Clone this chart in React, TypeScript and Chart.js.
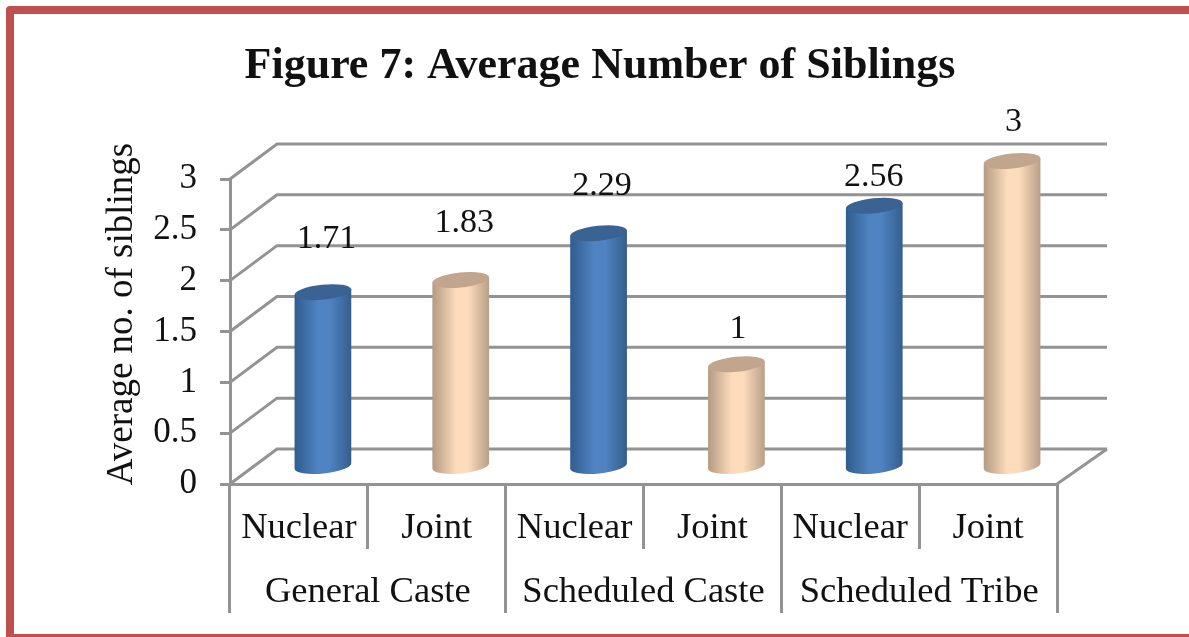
import React, { useEffect, useRef } from "react";
import { Chart, registerables } from "chart.js";

Chart.register(...registerables);

const categories = ["Nuclear", "Joint", "Nuclear", "Joint", "Nuclear", "Joint"];
const groups = ["General Caste", "Scheduled Caste", "Scheduled Tribe"];
const siblings = [1.71, 1.83, 2.29, 1, 2.56, 3];
const valueLabels = ["1.71", "1.83", "2.29", "1", "2.56", "3"];
const yTicks = [0, 0.5, 1, 1.5, 2, 2.5, 3];

const TITLE = "Figure 7: Average Number of Siblings";
const Y_TITLE = "Average no. of siblings";
const SERIF = "'Liberation Serif', serif";
const INK = "#111";
const LINE = "#939393";

// 3D projection of the chart's depth
const DEPTH_X = 47;
const DEPTH_Y = 35;
const BAR_DX = 24;
const BAR_DY = 18;
const BASE_DROP = 1.5;
const BAR_RX = 28.5;
const BAR_RY = 7.5;
const BAR_TILT = -0.1;
// distance of each value label above its cylinder, and its sideways nudge
const labelLift = [53, 57, 47, 35, 29, 39];
const labelNudge = [3.5, 3.5, 3.5, 1.5, -0.5, 1.5];

const palettes = [
  { edge: "#305c8e", mid: "#4f83c2", dark: "#355d8c", top: "#3a6394" },
  { edge: "#b39a82", mid: "#fddcbc", dark: "#b89f88", top: "#c2a58d" },
];

const scene = {
  id: "scene3d",
  beforeDraw(chart: any) {
    const { ctx } = chart;
    ctx.save();
    ctx.fillStyle = "#fff";
    ctx.fillRect(0, 0, chart.width, chart.height);
    ctx.strokeStyle = "#c0504d";
    ctx.lineWidth = 8;
    ctx.lineJoin = "round";
    ctx.strokeRect(10, 10, 1200, 628);
    ctx.restore();
    // centre the title over the plot as in the source figure
    chart.titleBlock.left = 11;
    chart.titleBlock.right = chart.width;
  },
  beforeDatasetsDraw(chart: any) {
    const { ctx, chartArea: a, scales } = chart;
    ctx.save();
    ctx.strokeStyle = LINE;
    ctx.lineWidth = 3;
    yTicks.forEach((t) => {
      const y = scales.y.getPixelForValue(t);
      ctx.beginPath();
      ctx.moveTo(a.left, y);
      ctx.lineTo(a.left + DEPTH_X, y - DEPTH_Y);
      ctx.lineTo(a.right + DEPTH_X + 3, y - DEPTH_Y);
      ctx.stroke();
    });
    ctx.beginPath();
    ctx.moveTo(a.right, a.bottom);
    ctx.lineTo(a.right + DEPTH_X + 3, a.bottom - DEPTH_Y);
    ctx.stroke();
    ctx.restore();
  },
  afterDatasetsDraw(chart: any) {
    const { ctx } = chart;
    const meta = chart.getDatasetMeta(0);
    meta.data.forEach((bar: any, i: number) => {
      const pal = palettes[i % 2];
      const cx = bar.x + BAR_DX;
      const topY = bar.y - BAR_DY;
      const baseY = bar.base - BAR_DY + BASE_DROP;
      const dx = BAR_RX * Math.cos(BAR_TILT);
      const dy = BAR_RX * Math.sin(BAR_TILT);
      const g = ctx.createLinearGradient(cx - BAR_RX, 0, cx + BAR_RX, 0);
      g.addColorStop(0, pal.edge);
      g.addColorStop(0.42, pal.mid);
      g.addColorStop(0.62, pal.mid);
      g.addColorStop(1, pal.dark);
      ctx.save();
      ctx.fillStyle = g;
      ctx.beginPath();
      ctx.ellipse(cx, baseY, BAR_RX, BAR_RY, BAR_TILT, 0, Math.PI);
      ctx.lineTo(cx - dx, topY - dy);
      ctx.lineTo(cx + dx, topY + dy);
      ctx.closePath();
      ctx.fill();
      ctx.fillStyle = pal.top;
      ctx.beginPath();
      ctx.ellipse(cx, topY, BAR_RX, BAR_RY, BAR_TILT, 0, Math.PI * 2);
      ctx.fill();
      ctx.restore();

      ctx.save();
      ctx.fillStyle = INK;
      ctx.font = `34px ${SERIF}`;
      ctx.textAlign = "center";
      ctx.textBaseline = "middle";
      ctx.fillText(valueLabels[i], cx + labelNudge[i], topY - labelLift[i]);
      ctx.restore();
    });
  },
  afterDraw(chart: any) {
    const { ctx } = chart;
    ctx.save();
    ctx.translate(132, 314);
    ctx.rotate(-Math.PI / 2);
    ctx.fillStyle = INK;
    ctx.font = `37px ${SERIF}`;
    ctx.textAlign = "center";
    ctx.textBaseline = "alphabetic";
    ctx.fillText(Y_TITLE, 0, 0);
    ctx.restore();
  },
};

export default function App() {
  const ref = useRef<HTMLCanvasElement>(null);
  useEffect(() => {
    document.body.style.margin = "0";
    document.body.style.overflow = "hidden";
    const chart = new Chart(ref.current!, {
      type: "bar",
      data: {
        labels: categories,
        datasets: [
          {
            label: Y_TITLE,
            data: siblings,
            backgroundColor: "rgba(0,0,0,0)",
            borderWidth: 0,
            xAxisID: "x",
            yAxisID: "y",
          },
        ],
      },
      plugins: [scene],
      options: {
        animation: false,
        responsive: false,
        layout: { padding: { left: 0, right: 132, top: 0, bottom: 24 } },
        plugins: {
          legend: { display: false },
          tooltip: { enabled: false },
          title: {
            display: true,
            text: TITLE,
            color: INK,
            font: { family: SERIF, size: 44, weight: "bold", lineHeight: 1.2 },
            padding: { top: 40, bottom: 86.2 },
          },
        },
        scales: {
          y: {
            min: 0,
            max: 3,
            afterFit: (s: any) => {
              s.width = 230;
            },
            afterBuildTicks: (s: any) => {
              s.ticks = yTicks.map((value) => ({ value }));
            },
            ticks: {
              color: INK,
              padding: 23,
              font: { family: SERIF, size: 35 },
              callback: (v: any) => String(v),
            },
            grid: {
              drawOnChartArea: false,
              tickLength: 10,
              color: LINE,
              lineWidth: 3,
            },
            border: { display: true, color: LINE, width: 3 },
          },
          x: {
            offset: true,
            weight: 0,
            afterFit: (s: any) => {
              s.height = 65;
            },
            ticks: {
              color: INK,
              padding: -42,
              maxRotation: 0,
              autoSkip: false,
              font: { family: SERIF, size: 36.5 },
            },
            grid: {
              offset: true,
              drawOnChartArea: false,
              tickLength: 65,
              color: LINE,
              lineWidth: 3,
            },
            border: { display: true, color: LINE, width: 3 },
          },
          x2: {
            type: "category",
            axis: "x",
            position: "bottom",
            weight: 1,
            offset: true,
            labels: groups,
            afterFit: (s: any) => {
              s.height = 64;
            },
            ticks: {
              color: INK,
              padding: -42,
              maxRotation: 0,
              autoSkip: false,
              font: { family: SERIF, size: 36.5 },
            },
            grid: {
              offset: true,
              drawOnChartArea: false,
              tickLength: 64,
              color: LINE,
              lineWidth: 3,
            },
            border: { display: false },
          },
        },
      } as any,
    });
    return () => chart.destroy();
  }, []);
  return (
    <canvas
      ref={ref}
      width={1189}
      height={637}
      style={{ position: "fixed", left: 0, top: 0, filter: "blur(0.7px)" }}
    />
  );
}
